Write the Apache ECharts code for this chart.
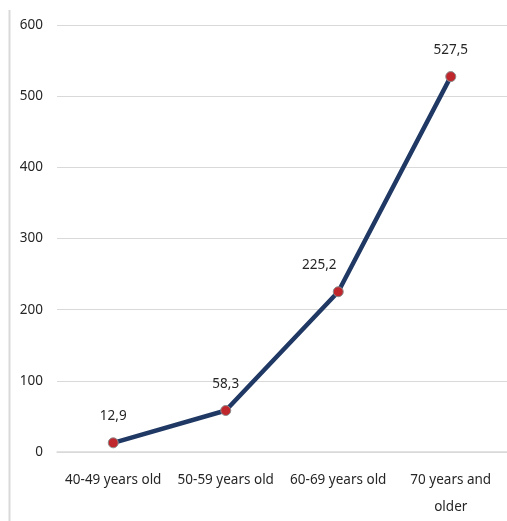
<!DOCTYPE html>
<html>
<head>
<meta charset="utf-8">
<style>
  html, body { margin: 0; padding: 0; background: #ffffff; }
  #chart { width: 507px; height: 521px; }
</style>
<script src="https://cdn.jsdelivr.net/npm/echarts@6/dist/echarts.min.js"></script>
</head>
<body>
<div id="chart"></div>
<script>
// Age groups on the category axis
const categories = ['40-49 years old', '50-59 years old', '60-69 years old', '70 years and\nolder'];
// Rate per age group
const values = [12.9, 58.3, 225.2, 527.5];
// Value axis range
const yMin = 0;
const yMax = 600;
const yStep = 100;

const chart = echarts.init(document.getElementById('chart'), null, { renderer: 'canvas' });
const font = 'Noto Sans';

// The steep third point keeps its label to the left of the line
const seriesData = values.map((v, i) => i === 2
  ? { value: v, label: { offset: [-19, 0] } }
  : v);

chart.setOption({
  animation: false,
  backgroundColor: '#ffffff',
  graphic: [{
    type: 'line',
    shape: { x1: 9.5, y1: 10, x2: 9.5, y2: 521 },
    style: { stroke: '#d9d9d9', lineWidth: 2 }
  }],
  grid: { left: 57, top: 25, width: 452, height: 432, containLabel: false },
  xAxis: {
    type: 'category',
    data: categories,
    boundaryGap: true,
    axisLine: { show: true, lineStyle: { color: '#d9d9d9', width: 1.5 } },
    axisTick: { show: false },
    axisLabel: {
      interval: 0, margin: 15, color: '#262626',
      fontFamily: font, fontSize: 13.5, lineHeight: 27
    }
  },
  yAxis: {
    type: 'value',
    min: yMin, max: yMax, interval: yStep,
    axisLine: { show: false },
    axisTick: { show: false },
    splitLine: { show: true, lineStyle: { color: '#d9d9d9', width: 1 } },
    axisLabel: { margin: 14, color: '#262626', fontFamily: font, fontSize: 13.5 }
  },
  series: [{
    type: 'line',
    data: seriesData,
    symbol: 'circle',
    symbolSize: 10,
    lineStyle: { color: '#1f3864', width: 4.5 },
    itemStyle: { color: '#c0272d', borderColor: '#8c8c8c', borderWidth: 1 },
    label: {
      show: true, position: 'top', distance: 14,
      color: '#262626', fontFamily: font, fontSize: 13.5,
      formatter: p => String(p.value).replace('.', ',')
    }
  }]
});
</script>
</body>
</html>
